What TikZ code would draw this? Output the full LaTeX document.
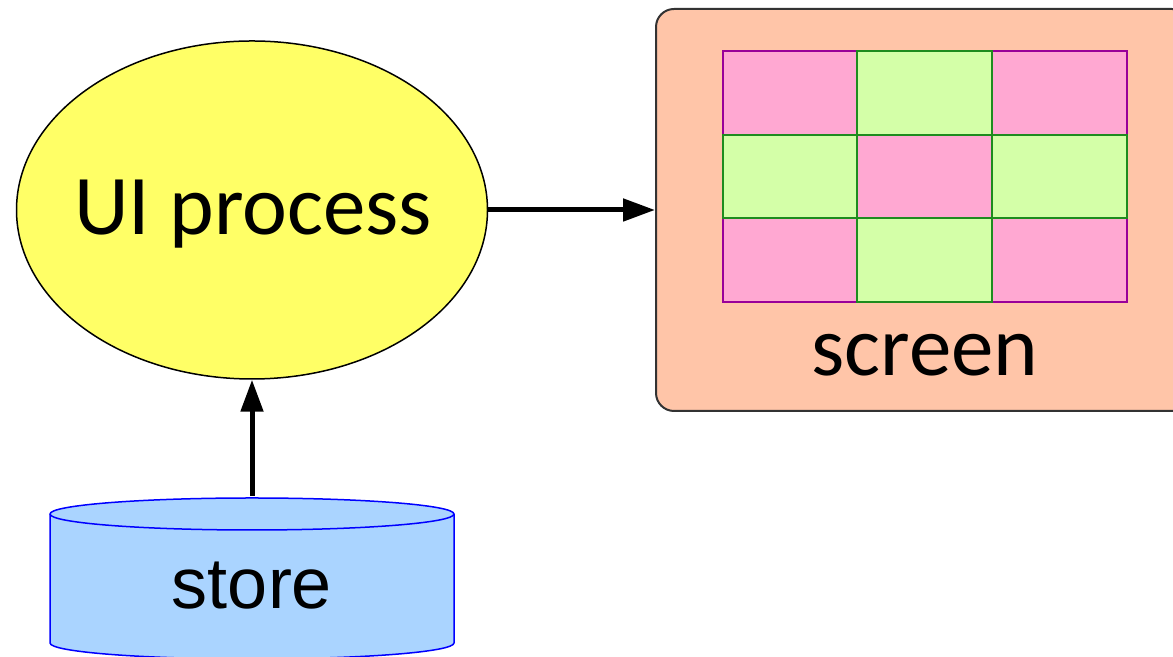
\documentclass[tikz,border=0pt]{standalone}
\usepackage{fontspec}
\setmainfont{Carlito}
\newfontfamily\arialfont{Liberation Sans}
\usetikzlibrary{shapes.geometric,arrows.meta}
\definecolor{uiyellow}{HTML}{FFFF66}
\definecolor{scrpeach}{HTML}{FFC5A8}
\definecolor{cellpink}{HTML}{FFA8D2}
\definecolor{cellgreen}{HTML}{D4FFA8}
\definecolor{cellpinkline}{HTML}{990099}
\definecolor{cellgreenline}{HTML}{1E8C1E}
\definecolor{storeblue}{HTML}{AAD4FF}
\tikzset{
  bigtext/.style={font=\fontsize{42.5}{50}\selectfont, inner sep=0pt, anchor=base},
  flow/.style={line width=2.5pt, -{Triangle[length=16pt,width=11pt]}},
  pinkcell/.style={fill=cellpink, draw=cellpinkline, line width=0.75pt},
  greencell/.style={fill=cellgreen, draw=cellgreenline, line width=0.75pt},
}
\begin{document}
\begin{tikzpicture}[x=0.5pt,y=0.5pt]
\useasboundingbox (0,0) rectangle (1173,657);
\clip (0,0) rectangle (1173,657);
% UI process ellipse
\node[ellipse, draw=black, line width=0.75pt, fill=uiyellow, minimum width=235.5pt, minimum height=169pt, inner sep=0pt] (ui) at (252,447) {};
\node[bigtext] (uitext) at (253,422) {UI process};
% screen
\node[rectangle, rounded corners=9pt, draw=black!80, line width=1pt, fill=scrpeach, minimum width=267pt, minimum height=201pt, inner sep=0pt] (screen) at (923,447) {};
\fill[pinkcell]  (723,522) rectangle (857,606);
\fill[greencell] (857,522) rectangle (992,606);
\fill[pinkcell]  (992,522) rectangle (1127,606);
\fill[greencell] (723,439) rectangle (857,522);
\fill[pinkcell]  (857,439) rectangle (992,522);
\fill[greencell] (992,439) rectangle (1127,522);
\fill[pinkcell]  (723,355) rectangle (857,439);
\fill[greencell] (857,355) rectangle (992,439);
\fill[pinkcell]  (992,355) rectangle (1127,439);
\draw[pinkcell, fill=none] (723,522) rectangle (857,606);
\draw[pinkcell, fill=none] (992,522) rectangle (1127,606);
\draw[pinkcell, fill=none] (857,439) rectangle (992,522);
\draw[pinkcell, fill=none] (723,355) rectangle (857,439);
\draw[pinkcell, fill=none] (992,355) rectangle (1127,439);
\draw[greencell, fill=none] (857,522) rectangle (992,606);
\draw[greencell, fill=none] (723,439) rectangle (857,522);
\draw[greencell, fill=none] (992,439) rectangle (1127,522);
\draw[greencell, fill=none] (857,355) rectangle (992,439);
\node[bigtext] (scrtext) at (925,281) {screen};
% store cylinder
\filldraw[fill=storeblue, draw=blue, line width=0.75pt]
  (50,143) -- (50,14) arc[start angle=180, end angle=360, x radius=202, y radius=16]
  -- (454,143) arc[start angle=0, end angle=180, x radius=202, y radius=16] -- cycle;
\draw[blue, line width=0.75pt] (50,143) arc[start angle=180, end angle=360, x radius=202, y radius=16];
\coordinate (storetop) at (252,161);
\node[bigtext, font=\arialfont\fontsize{36}{42}\selectfont] (storetext) at (252,48) {store};
% connectors
\draw[flow] (ui.east) -- (screen.west);
\draw[flow] (storetop) -- (ui.south);
\end{tikzpicture}
\end{document}
